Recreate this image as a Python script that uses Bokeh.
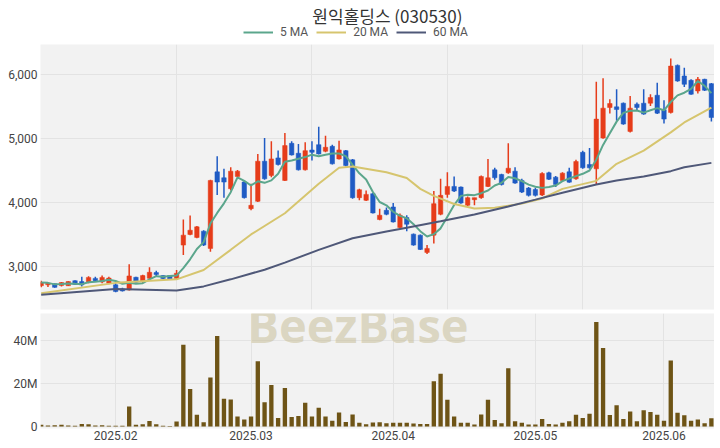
import pandas as pd
from bokeh.plotting import figure
from bokeh.models import (ColumnDataSource, FixedTicker, NumeralTickFormatter, Legend,
                          LegendItem, Label, Range1d, CustomJSTickFormatter)
from bokeh.layouts import column
from bokeh.embed import file_html
from bokeh.resources import INLINE
from bokeh.core.properties import value

title_text = "원익홀딩스 (030530)"

opens = [2700, 2715, 2730, 2705, 2700, 2780, 2765, 2750, 2815, 2760,
         2740, 2715, 2650, 2636, 2832, 2765, 2817, 2905, 2858, 2858,
         2812, 3334, 3499, 3453, 3551, 3282, 4475, 4383, 4212, 4403,
         4316, 3902, 4016, 4641, 4419, 4693, 4341, 4920, 4765, 4507,
         4816, 4899, 4796, 4873, 4677, 4806, 4662, 4073, 4031, 4135,
         3732, 3876, 3928, 3608, 3763, 3504, 3489, 3220, 3489, 3814,
         4124, 4248, 4238, 3954, 4042, 4073, 4248, 4507, 4434, 4460,
         4486, 4341, 4222, 4200, 4115, 4460, 4393, 4341, 4476, 4367,
         4780, 4589, 4522, 5003, 5478, 5488, 5545, 5106, 5530, 5545,
         5545, 5669, 5442, 5401, 6134, 5969, 5902, 5736, 5917, 5850]
highs = [2780, 2745, 2735, 2760, 2770, 2785, 2840, 2850, 2840, 2860,
         2840, 2740, 2670, 3034, 2840, 2870, 2987, 2935, 2865, 2865,
         2946, 3732, 3794, 3630, 3565, 4352, 4720, 4522, 4548, 4505,
         4342, 4290, 4755, 5003, 4951, 4807, 5080, 4951, 4910, 4935,
         4951, 5178, 5039, 4899, 4961, 4817, 4677, 4212, 4186, 4145,
         3902, 3918, 3990, 3825, 3799, 3515, 3499, 3334, 4176, 4367,
         4470, 4403, 4248, 4093, 4073, 4419, 4677, 4538, 4445, 4920,
         4548, 4367, 4238, 4228, 4470, 4475, 4410, 4470, 4538, 4662,
         4806, 4847, 5881, 5933, 5607, 5762, 5555, 5659, 5555, 5762,
         5685, 5865, 5590, 6243, 6150, 6098, 5917, 5953, 5928, 5860]
lows = [2675, 2680, 2670, 2690, 2695, 2715, 2690, 2740, 2770, 2740,
        2725, 2600, 2610, 2626, 2745, 2740, 2802, 2845, 2805, 2795,
        2800, 3179, 3489, 3440, 3320, 3230, 4115, 4073, 4186, 4390,
        4058, 3876, 4006, 4352, 4393, 4575, 4331, 4729, 4496, 4496,
        4651, 4745, 4780, 4590, 4667, 4559, 4057, 4031, 4021, 3825,
        3722, 3799, 3685, 3592, 3551, 3324, 3256, 3194, 3360, 3799,
        4073, 4160, 3980, 3938, 3954, 4057, 4238, 4352, 4264, 4445,
        4290, 4145, 4093, 4093, 4100, 4350, 4238, 4320, 4305, 4352,
        4522, 4522, 4279, 4990, 5385, 5272, 5210, 5090, 5426, 5365,
        5500, 5375, 5230, 5385, 5881, 5799, 5675, 5695, 5736, 5261]
closes = [2750, 2740, 2675, 2750, 2765, 2720, 2715, 2830, 2780, 2830,
          2820, 2610, 2620, 2853, 2755, 2858, 2910, 2874, 2812, 2800,
          2894, 3489, 3566, 3618, 3334, 4341, 4316, 4316, 4486, 4486,
          4073, 3954, 4641, 4367, 4677, 4590, 4884, 4739, 4507, 4806,
          4780, 4755, 4858, 4600, 4817, 4574, 4073, 4197, 4124, 3835,
          3799, 3814, 3695, 3799, 3659, 3334, 3267, 3282, 3980, 4109,
          4248, 4176, 3990, 4073, 4073, 4403, 4383, 4383, 4279, 4532,
          4300, 4160, 4109, 4109, 4450, 4360, 4280, 4455, 4315, 4636,
          4538, 4538, 5297, 5468, 5540, 5447, 5220, 5468, 5478, 5375,
          5633, 5390, 5297, 6124, 5891, 5840, 5685, 5917, 5747, 5323]
volumes = [0.8, 0.5, 0.6, 0.8, 0.5, 0.3, 1.2, 1.0, 0.5, 0.6,
           0.4, 0.3, 0.3, 9.3, 0.8, 1.1, 2.6, 1.1, 0.3, 0.2,
           2.3, 38.0, 17.5, 5.5, 2.0, 22.8, 42.1, 12.9, 12.6, 4.7,
           3.3, 4.7, 30.4, 11.3, 19.3, 4.0, 17.9, 4.4, 4.9, 11.1,
           4.7, 8.7, 4.6, 2.7, 6.5, 2.1, 5.6, 1.8, 1.1, 1.9,
           2.0, 1.5, 1.7, 1.7, 1.7, 1.4, 1.2, 1.2, 21.1, 24.5,
           12.5, 4.7, 1.7, 1.7, 0.9, 5.6, 12.5, 3.0, 1.5, 27.1,
           2.4, 1.7, 0.9, 0.9, 3.5, 1.2, 0.9, 1.8, 2.4, 5.5,
           4.0, 5.9, 48.6, 36.5, 5.3, 9.9, 3.5, 7.0, 2.4, 7.6,
           6.8, 5.5, 2.7, 30.7, 6.4, 5.2, 2.7, 3.3, 1.5, 3.8]  # millions of shares

ma20_idx = [0, 11, 20, 24, 28, 31, 36, 41, 44, 46, 51, 54, 56, 58, 61, 64, 67, 71, 74, 77,
            82, 85, 89, 93, 95, 99]
ma20_val = [2585, 2745, 2800, 2946, 3260, 3500, 3830, 4290, 4540, 4560, 4470, 4380, 4210, 4100,
            3975, 3905, 3915, 3980, 4060, 4210, 4335, 4600, 4806, 5090, 5245, 5478]
ma60_idx = [0, 11, 20, 24, 28, 33, 36, 41, 46, 51, 54, 59, 64, 69, 73, 77, 82, 85, 89, 93, 95, 99]
ma60_val = [2559, 2650, 2626, 2690, 2800, 2950, 3060, 3260, 3440, 3545, 3605, 3705, 3810, 3935,
            4042, 4150, 4279, 4341, 4403, 4486, 4548, 4615]

month_tick_idx = [11, 31, 52, 73, 92]
month_tick_labels = ["2025.02", "2025.03", "2025.04", "2025.05", "2025.06"]
price_ticks = [3000, 4000, 5000, 6000]
vol_ticks = [0, 20e6, 40e6]

UP, DOWN = "#e63c1a", "#1f5bc4"
BG, GRID = "#f2f2f2", "#e3e3e3"
C5, C20, C60 = "#5ba68c", "#d6c56e", "#4f5878"
FONT = "Roboto"
W = 714

n = len(closes)
idx = list(range(n))
colors = [UP if c >= o else DOWN for o, c in zip(opens, closes)]
src = ColumnDataSource(dict(
    x=idx, open=opens, high=highs, low=lows, close=closes,
    top=[max(o, c) for o, c in zip(opens, closes)],
    bottom=[min(o, c) for o, c in zip(opens, closes)],
    color=colors, volume=[v * 1e6 for v in volumes],
    ma5=pd.Series(closes).rolling(5, min_periods=1).mean().tolist(),
))

# ---- header: title + legend (a frame covering the whole header strip) ----
p0 = figure(width=W, height=44, x_range=Range1d(0, W), y_range=Range1d(0, 44),
            output_backend="svg", toolbar_location=None, min_border=0,
            x_axis_location=None, y_axis_location=None,
            background_fill_color="white", border_fill_color="white", outline_line_color=None)
p0.grid.visible = False
g5 = p0.line([-20, -10], [-20, -20], color=C5, line_width=2)
g20 = p0.line([-20, -10], [-20, -20], color=C20, line_width=2)
g60 = p0.line([-20, -10], [-20, -20], color=C60, line_width=2)
p0.add_layout(Label(x=367.5, y=29, text=title_text, text_align="center", text_baseline="middle",
                    text_font="Noto Sans CJK KR", text_font_size="17px", text_color="#333333"))
legend = Legend(items=[LegendItem(label="5 MA", renderers=[g5]),
                       LegendItem(label="20 MA", renderers=[g20]),
                       LegendItem(label="60 MA", renderers=[g60])],
                orientation="horizontal", location=(203, 5), margin=0, padding=0, spacing=8,
                label_standoff=7, glyph_width=30, glyph_height=12, label_height=12,
                label_text_font=FONT, label_text_font_size="12px", label_text_color="#555555",
                border_line_color=None, background_fill_alpha=0)
p0.add_layout(legend, "center")

xr = Range1d(-0.1, 99.46)

# ---- price panel ----
p1 = figure(width=W, height=267, x_range=xr, y_range=Range1d(2330, 6460),
            output_backend="svg", toolbar_location=None,
            min_border_left=40, min_border_right=0, min_border_bottom=2, min_border_top=0,
            background_fill_color=BG, border_fill_color="white", outline_line_color=None)
p1.xaxis.visible = False
p1.xgrid.ticker = FixedTicker(ticks=[20, 40, 60, 80])
p1.yaxis.ticker = FixedTicker(ticks=price_ticks)
p1.ygrid.ticker = FixedTicker(ticks=price_ticks)
p1.yaxis.formatter = NumeralTickFormatter(format="0,0")

p1.text(x=[46.8], y=[2092], text=["BeezBase"], text_font=value("Open Sans"),
        text_font_style="bold", text_font_size="47px", text_color="#c8bf98", text_alpha=0.55,
        text_align="center", text_baseline="alphabetic")
p1.segment(x0="x", y0="low", x1="x", y1="high", color="color", line_width=1.5, source=src)
p1.vbar(x="x", width=0.66, top="top", bottom="bottom", fill_color="color", line_color="color",
        line_width=0.5, source=src)
p1.line("x", "ma5", color=C5, line_width=2, source=src)
p1.line(ma20_idx, ma20_val, color=C20, line_width=2)
p1.line(ma60_idx, ma60_val, color=C60, line_width=2)

# ---- volume panel ----
p2 = figure(width=W, height=137, x_range=xr, y_range=Range1d(-0.93e6, 52.56e6),
            output_backend="svg", toolbar_location=None,
            min_border_left=40, min_border_right=0, min_border_bottom=20, min_border_top=2,
            background_fill_color=BG, border_fill_color="white", outline_line_color=None)
p2.text(x=[46.8], y=[47.3e6], text=["BeezBase"], text_font=value("Open Sans"),
        text_font_style="bold", text_font_size="47px", text_color="#c8bf98", text_alpha=0.55,
        text_align="center", text_baseline="alphabetic")
p2.vbar(x="x", width=0.64, top="volume", bottom=0, fill_color="#6e5416", line_color=None, source=src)
p2.xaxis.ticker = FixedTicker(ticks=month_tick_idx)
p2.xaxis.major_label_overrides = {t: l for t, l in zip(month_tick_idx, month_tick_labels)}
p2.xgrid.ticker = FixedTicker(ticks=month_tick_idx)
p2.yaxis.ticker = FixedTicker(ticks=vol_ticks)
p2.ygrid.ticker = FixedTicker(ticks=vol_ticks)
p2.yaxis.formatter = CustomJSTickFormatter(code="return tick == 0 ? '0' : (tick/1e6).toFixed(0) + 'M';")

for p in (p1, p2):
    for ax in p.axis:
        ax.axis_line_color = None
        ax.major_tick_line_color = None
        ax.minor_tick_line_color = None
        ax.major_tick_out = 0
        ax.major_tick_in = 0
        ax.major_label_text_font = FONT
        ax.major_label_text_font_size = "12px"
        ax.major_label_text_color = "#444444"
        ax.major_label_standoff = 3
    p.grid.grid_line_color = GRID
p2.xaxis.major_label_standoff = 2

layout = column(p0, p1, p2, spacing=0)
open("out.html", "w").write(file_html(layout, INLINE))
